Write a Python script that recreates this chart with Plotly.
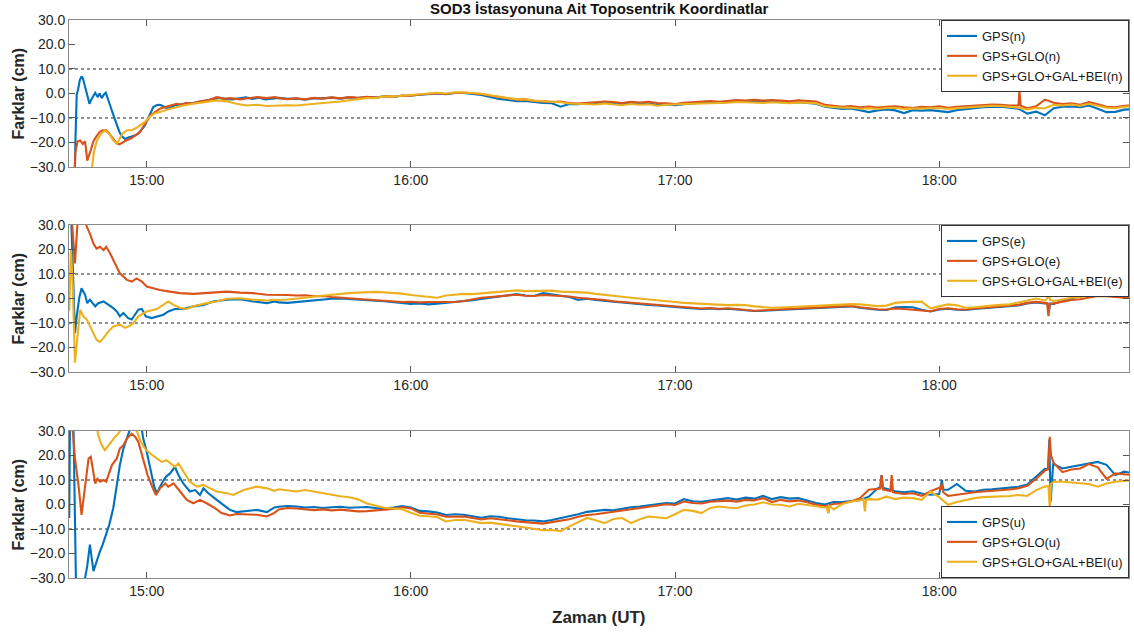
import pandas as pd
import plotly.graph_objects as go

# ---------------------------------------------------------------------------
# Time axis: minutes after 14:00 UT
# ---------------------------------------------------------------------------
BASE = pd.Timestamp("2019-01-01 14:00:00")
late_minutes = list(range(90, 285, 2))  # regular 2-minute epochs after 15:30

tick_minutes = [60, 120, 180, 240]
tick_labels = ["15:00", "16:00", "17:00", "18:00"]
y_ticks = [-30, -20, -10, 0, 10, 20, 30]

series_names = ["GPS", "GPS+GLO", "GPS+GLO+GAL+BEI"]

# ---------------------------------------------------------------------------
# North component (cm)
# ---------------------------------------------------------------------------
n_gps_early_t = [42.4, 43.6, 43.8, 44.1, 44.4, 44.8, 45.2, 45.5, 45.9, 46.3,
                 46.7, 47.0, 47.4, 47.9, 48.3, 48.9, 49.3, 49.8, 50.2, 50.7,
                 51.2, 51.7, 52.2, 52.7, 53.3, 53.8, 54.4, 55.1, 55.8, 56.6,
                 57.3, 58.1, 58.8, 59.6, 60.1, 60.6, 61.0, 61.5, 62.0, 62.6,
                 63.2, 63.8, 64.4, 64.9, 65.6, 66.4, 67.2, 68.0, 69.0, 70.5,
                 72.0, 73.5, 75.0, 76.5, 78.0, 79.5, 81.0, 82.5, 84.0, 85.5,
                 87.0, 88.5]
n_gps_early = [-45, -38, -20, -0.5, 1.5, 5.5, 7.0, 6.2, 3.5, 0.5,
               -3.0, -4.2, -2.5, -0.8, 0.3, -1.5, 0.0, -1.9, -0.6, 0.3,
               -2.0, -4.9, -7.6, -10.3, -13.0, -15.7, -17.5, -18.6, -18.0, -17.7,
               -17.2, -16.4, -14.8, -13.0, -11.0, -8.9, -7.0, -5.5, -5.0, -4.6,
               -4.7, -5.1, -5.8, -6.2, -5.5, -4.8, -4.6, -4.2, -4.0, -3.9,
               -3.4, -3.1, -2.4, -1.7, -2.3, -2.4, -2.0, -1.6, -2.2, -1.7,
               -2.4, -2.0]
n_gps_late = [-1.8, -2.2, -2.1, -2.5, -1.9, -2.0, -1.7, -2.1, -1.6, -1.9,
              -1.5, -1.6, -1.2, -1.4, -0.9, -0.8, -0.5, -0.3, 0.0, -0.3,
              0.2, 0.2, -0.2, -0.6, -1.4, -2.2, -2.6, -3.1, -3.0, -3.6,
              -3.9, -4.0, -5.4, -4.3, -4.4, -4.0, -4.1, -3.8, -4.1, -4.4,
              -4.0, -4.3, -4.1, -4.6, -4.5, -4.8, -4.4, -4.0, -3.8, -3.7,
              -3.9, -3.5, -3.3, -3.4, -3.2, -3.5, -3.3, -3.6, -3.9, -3.6,
              -3.9, -4.2, -5.4, -5.9, -6.3, -6.1, -6.8, -7.6, -6.9, -6.5,
              -6.9, -8.0, -6.8, -7.0, -6.8, -7.2, -7.6, -6.8, -6.3, -5.9,
              -5.6, -5.5, -5.4, -5.8, -6.2, -8.2, -7.4, -8.9, -6.0, -5.4,
              -5.3, -5.6, -4.9, -6.2, -7.6, -7.5, -6.6, -6.4]

n_glo_early_t = [42.4, 43.5, 43.8, 44.3, 44.9, 45.5, 46.0, 46.5, 47.3, 47.9,
                 48.5, 49.3, 50.0, 50.8, 51.5, 52.3, 53.2, 53.8, 54.5, 55.5,
                 56.4, 57.6, 58.5, 59.4, 60.2, 60.9, 61.9, 63.0, 64.2, 65.3,
                 66.8, 67.9, 69.1, 70.2, 72.1, 74.0, 75.9, 77.4, 78.9, 81.2,
                 83.5, 85.0, 87.3, 89.1]
n_glo_early = [-45, -40, -24, -19.5, -19.2, -20.6, -19.5, -27.4, -23.1, -19.5,
               -17.7, -15.7, -15.0, -15.0, -16.4, -18.4, -20.4, -20.8, -20.0, -19.0,
               -18.4, -17.0, -15.7, -13.0, -11.0, -8.9, -7.6, -6.2, -5.5, -4.9,
               -4.2, -4.6, -3.8, -4.2, -3.2, -2.8, -1.5, -2.2, -1.9, -2.4,
               -1.9, -1.5, -1.9, -1.5]
n_glo_late = [-1.9, -2.3, -2.0, -2.4, -1.8, -2.1, -1.6, -2.0, -1.5, -1.8,
              -1.4, -1.7, -1.1, -1.3, -0.8, -0.9, -0.4, -0.2, 0.1, -0.2,
              0.3, 0.4, 0.1, -0.2, -0.9, -1.5, -1.9, -2.5, -2.4, -3.0,
              -3.2, -3.5, -3.3, -3.9, -4.1, -3.8, -3.6, -3.3, -3.5, -3.9,
              -3.4, -3.7, -3.4, -3.9, -4.0, -4.3, -3.8, -3.5, -3.3, -3.1,
              -3.4, -3.0, -2.7, -2.9, -2.6, -2.9, -2.7, -2.9, -3.2, -2.8,
              -3.1, -3.3, -4.6, -5.0, -5.4, -5.1, -5.6, -5.3, -5.7, -5.4,
              -5.2, -5.6, -5.9, -5.4, -5.6, -5.2, -5.8, -5.4, -5.2, -4.8,
              -4.9, -4.5, -4.6, -4.9, -5.2, -6.0, -5.2, -2.5, -3.8, -4.3,
              -4.0, -4.6, -3.5, -4.4, -5.4, -5.6, -5.0, -4.8]
n_glo_spike_t = [257.9, 258.2, 258.5]
n_glo_spike = [-4.8, 1.2, -5.0]

n_gal_early_t = [47.3, 47.6, 48.0, 48.6, 49.4, 50.5, 51.0, 51.7, 52.4, 53.2,
                 53.8, 54.5, 55.5, 56.6, 57.6, 58.5, 59.6, 60.6, 61.7, 63.0,
                 64.5, 66.1, 68.3, 70.6, 72.9, 75.9, 78.2, 80.4, 82.7, 85.0,
                 87.3, 89.0]
n_gal_early = [-45, -30, -24, -19.7, -17.0, -15.0, -15.7, -17.0, -19.1, -20.4,
               -18.6, -16.4, -15.0, -15.0, -14.1, -13.0, -11.6, -9.6, -8.2, -7.6,
               -6.6, -5.9, -4.9, -4.2, -3.5, -2.8, -3.2, -4.2, -4.9, -4.6,
               -5.1, -4.9]
n_gal_late = [-5.0, -4.8, -4.9, -4.5, -4.3, -4.0, -3.6, -3.3, -2.7, -2.3,
              -1.9, -1.8, -1.2, -1.3, -0.9, -0.7, -0.4, 0.0, 0.3, 0.0,
              0.5, 0.5, 0.2, -0.1, -0.8, -1.4, -1.9, -2.4, -2.4, -2.9,
              -3.1, -3.4, -3.6, -4.1, -4.3, -4.2, -4.5, -4.1, -4.6, -4.8,
              -4.3, -4.6, -4.4, -5.0, -4.6, -4.6, -4.3, -4.2, -4.0, -4.1,
              -3.9, -3.8, -3.5, -3.6, -3.7, -3.9, -3.6, -3.8, -4.0, -3.7,
              -4.0, -4.0, -5.2, -5.5, -5.8, -5.7, -6.2, -6.0, -6.3, -5.9,
              -5.8, -6.3, -6.2, -5.9, -6.1, -5.9, -6.3, -6.0, -5.7, -5.4,
              -5.3, -5.0, -5.1, -5.3, -5.8, -6.5, -5.9, -6.0, -4.6, -4.9,
              -4.5, -5.0, -4.2, -5.0, -5.8, -6.0, -5.4, -5.2]

# ---------------------------------------------------------------------------
# East component (cm)
# ---------------------------------------------------------------------------
e_gps_early_t = [42.4, 42.9, 43.3, 43.7, 44.1, 44.7, 45.2, 46.0, 46.5, 47.1,
                 48.3, 49.0, 50.2, 51.3, 52.4, 53.2, 53.9, 54.7, 55.8, 56.6,
                 57.4, 58.1, 58.9, 59.8, 61.1, 62.6, 63.8, 64.9, 66.4, 68.3,
                 70.6, 72.9, 75.1, 78.2, 81.2, 84.2, 87.3, 89.0]
e_gps_early = [40, 30, 8, -14.1, -7.3, 0.5, 4.2, 1.5, -1.9, -0.5,
               -3.2, -1.9, -1.2, -2.6, -3.9, -5.3, -7.3, -5.9, -8.0, -8.6,
               -6.6, -4.6, -4.3, -7.3, -8.0, -7.3, -6.6, -5.3, -4.3, -4.3,
               -3.2, -2.6, -1.2, -0.5, -0.3, -1.2, -1.9, -1.2]
e_gps_late = [-1.6, -1.8, -1.4, -1.0, -0.6, -0.3, -0.1, 0.0, -0.3, -0.5,
              -0.6, -0.9, -1.1, -1.4, -1.6, -2.2, -2.0, -2.4, -2.1, -1.8,
              -1.6, -1.3, -0.7, -0.2, 0.3, 0.6, 1.2, 1.8, 1.2, 1.0,
              2.2, 1.6, 1.0, 0.6, -0.6, -0.1, -0.6, -0.8, -1.3, -1.6,
              -2.0, -2.2, -2.6, -2.8, -3.0, -3.5, -3.8, -4.2, -4.3, -4.1,
              -4.4, -4.2, -4.5, -4.7, -5.1, -5.0, -4.8, -4.6, -4.4, -4.2,
              -4.1, -3.9, -3.8, -3.6, -3.4, -3.2, -3.8, -4.3, -4.6, -4.7,
              -3.6, -3.5, -3.6, -4.6, -5.3, -4.5, -4.2, -4.6, -4.7, -4.3,
              -4.0, -3.7, -3.5, -3.2, -2.8, -2.0, -1.6, -2.0, -2.2, -1.0,
              -0.2, 1.3, 2.3, 1.4, 1.1, 0.8, 0.5, 0.6]
e_gps_spike_t = [264.6, 264.9, 265.2]
e_gps_spike = [-2.0, -5.2, -2.1]

e_glo_early_t = [42.4, 43.0, 43.7, 44.2, 44.6, 46.4, 47.1, 47.9, 48.6, 49.4,
                 50.2, 50.8, 51.7, 52.8, 53.9, 55.5, 56.6, 57.7, 58.9, 60.0,
                 61.5, 63.0, 65.3, 67.6, 70.6, 72.9, 75.1, 78.2, 81.2, 84.2,
                 87.3, 89.0]
e_glo_early = [40, 32, 14.3, 25, 40, 29.2, 26.5, 22.4, 20.4, 21.1,
               19.7, 21.1, 18.4, 14.3, 10.3, 7.6, 6.9, 8.2, 6.9, 4.9,
               4.2, 3.5, 2.8, 2.2, 1.9, 2.2, 2.4, 2.8, 2.4, 2.2,
               1.5, 1.5]
e_glo_late = [1.6, 1.4, 1.2, 1.3, 0.9, 1.0, 0.6, 0.5, 0.1, -0.2,
              -0.5, -0.7, -0.9, -1.1, -1.4, -1.3, -1.6, -1.4, -1.5, -1.3,
              -1.4, -1.0, -0.3, 0.3, 0.6, 0.9, 1.2, 1.5, 1.1, 1.0,
              1.4, 1.3, 1.0, 0.8, 0.3, 0.1, -0.4, -0.6, -1.1, -1.4,
              -1.8, -2.0, -2.4, -2.6, -2.8, -3.3, -3.6, -4.0, -4.1, -3.9,
              -4.2, -4.0, -4.3, -4.5, -5.0, -4.8, -4.6, -4.4, -4.2, -4.0,
              -3.9, -3.7, -3.6, -3.4, -3.2, -3.0, -3.6, -4.1, -4.4, -4.5,
              -4.1, -4.3, -4.5, -4.8, -5.2, -4.3, -4.0, -4.4, -4.5, -4.1,
              -3.8, -3.5, -3.3, -3.0, -2.6, -1.8, -1.4, -1.8, -2.0, -1.3,
              -0.6, -0.3, 0.4, 1.0, 0.9, 0.6, 0.3, 0.4]
e_glo_spike_t = [264.5, 264.8, 265.1]
e_glo_spike = [-2.0, -7.2, -2.2]

e_gal_early_t = [42.4, 42.8, 43.2, 43.7, 44.3, 44.9, 45.6, 46.4, 47.5, 48.6,
                 49.3, 50.2, 51.3, 52.4, 53.9, 55.1, 56.2, 57.0, 58.1, 60.0,
                 62.3, 63.8, 64.9, 66.1, 67.6, 69.1, 70.6, 73.6, 75.9, 78.2,
                 81.2, 84.2, 87.3, 89.0]
e_gal_early = [-5, 20, 5, -26.2, -15, -4.6, -7.3, -8.6, -12.7, -16.8,
               -17.8, -16.1, -13.4, -11.4, -10.7, -12.0, -11.1, -10.0, -7.3, -5.3,
               -4.3, -2.6, -1.2, -2.6, -3.9, -4.3, -3.2, -1.9, -1.2, -0.1,
               0.1, -0.5, -0.8, -0.5]
e_gal_late = [-0.6, -0.4, -0.2, 0.3, 0.8, 1.2, 1.3, 1.8, 2.2, 2.4,
              2.6, 2.7, 2.5, 2.3, 2.0, 1.4, 1.0, 0.5, 0.3, 1.2,
              1.5, 1.9, 1.8, 2.0, 2.3, 2.7, 3.0, 3.3, 3.0, 3.1,
              3.0, 3.2, 2.8, 2.7, 2.6, 2.4, 1.9, 1.6, 1.0, 0.7,
              0.3, 0.0, -0.4, -0.6, -0.8, -1.4, -1.8, -2.0, -2.2, -2.4,
              -2.5, -2.7, -2.6, -2.7, -3.2, -3.6, -3.8, -3.7, -3.5, -3.3,
              -3.2, -3.1, -2.9, -2.6, -2.4, -2.3, -2.4, -2.8, -3.1, -2.9,
              -1.8, -1.5, -1.4, -1.3, -4.0, -3.2, -2.4, -2.8, -3.8, -3.6,
              -3.1, -2.9, -2.6, -2.4, -1.6, -0.8, 0.0, -0.8, -1.0, -0.3,
              0.3, 0.6, 1.2, 1.6, 1.9, 1.7, 1.6, 1.7]
e_gal_spike_t = [264.6, 264.9, 265.2]
e_gal_spike = [0.2, 2.8, -0.6]

# ---------------------------------------------------------------------------
# Up component (cm)
# ---------------------------------------------------------------------------
u_gps_early_t = [42.4, 42.6, 43.3, 44.0, 44.8, 45.8, 46.5, 47.1, 47.9, 48.8,
                 49.4, 50.0, 50.8, 51.5, 52.4, 53.2, 53.9, 54.7, 55.5, 56.2,
                 57.0, 58.5, 59.2, 60.0, 60.8, 61.7, 62.3, 63.4, 64.4, 65.3,
                 66.4, 67.2, 68.3, 69.8, 71.0, 72.1, 72.9, 74.0, 75.9, 77.4,
                 78.9, 80.4, 82.7, 85.0, 87.3, 89.0]
u_gps_early = [-5.5, 40, 40, -40, -40, -32, -25, -16.4, -27.2, -21.8,
               -19.0, -16.4, -11.6, -8.2, -1.5, 8.0, 16.1, 22.8, 26.9, 29.6,
               35, 35, 27.0, 21.5, 14.7, 7.3, 4.6, 8.6, 11.4, 12.7,
               15.4, 12.0, 8.6, 5.3, 5.9, 3.9, 6.6, 4.6, 1.9, -0.1,
               -2.2, -3.1, -2.6, -2.2, -3.1, -1.2]
u_gps_late = [-0.9, -0.6, -0.8, -1.2, -1.0, -1.4, -1.1, -0.9, -1.3, -1.1,
              -1.0, -1.4, -1.6, -1.2, -0.6, -1.2, -2.6, -2.8, -3.3, -4.3,
              -4.0, -4.2, -4.8, -5.4, -4.8, -5.0, -5.6, -6.1, -6.4, -6.5,
              -6.9, -6.3, -5.6, -4.9, -4.0, -3.0, -2.6, -2.2, -2.4, -1.7,
              -1.1, -0.8, -0.3, 0.2, 0.6, 0.4, 2.2, 1.3, 1.1, 1.6,
              2.0, 2.6, 2.0, 2.8, 2.4, 3.5, 2.2, 3.0, 2.4, 2.6,
              1.6, 0.6, 0.0, 1.0, 1.0, 1.3, 1.8, 3.2, 6.6, 6.4,
              5.4, 5.0, 5.4, 4.5, 4.0, 4.3, 6.0, 8.4, 5.6, 5.3,
              6.0, 6.2, 6.6, 6.8, 7.2, 8.2, 11.5, 14.6, 16.5, 14.7,
              15.4, 16.1, 16.8, 17.4, 16.2, 12.0, 13.4, 12.8]
u_gps_spike_t = [226.6, 226.9, 227.2, 240.3, 240.6, 240.9,
                 264.7, 265.0, 265.3, 265.6, 265.9]
u_gps_spike = [7.0, 12.0, 6.8, 7.0, 10.0, 6.0,
               14.5, 26.5, 1.2, 12.0, 17.0]

u_glo_early_t = [42.4, 43.0, 43.7, 44.5, 45.2, 46.0, 46.8, 47.3, 47.9, 48.3,
                 48.8, 49.4, 50.2, 50.8, 51.3, 52.1, 53.2, 53.9, 54.7, 55.5,
                 56.6, 57.4, 58.1, 59.2, 60.2, 61.4, 62.1, 63.0, 64.2, 64.9,
                 66.1, 67.6, 69.1, 70.6, 72.1, 73.6, 75.5, 77.0, 78.9, 80.4,
                 82.7, 85.0, 87.3, 89.0]
u_glo_early = [35, 35, 18.8, 8.0, -4.2, 8.0, 18.8, 19.5, 13.4, 8.6,
               10.5, 9.3, 10.0, 9.3, 12.0, 16.1, 18.8, 22.8, 24.2, 26.9,
               28.9, 27.6, 25.5, 18.8, 12.0, 6.6, 3.9, 6.6, 8.6, 7.3,
               8.6, 5.3, 1.9, 0.5, 1.9, 0.5, -1.5, -3.5, -4.5, -3.9,
               -3.9, -4.2, -4.9, -3.4]
u_glo_late = [-2.0, -1.4, -1.6, -1.9, -2.3, -2.0, -2.4, -2.1, -2.6, -2.8,
              -2.7, -2.4, -2.0, -1.8, -1.1, -1.6, -3.4, -3.6, -4.1, -5.0,
              -4.8, -4.9, -5.5, -6.1, -5.6, -5.9, -6.4, -6.9, -7.3, -7.5,
              -7.8, -7.2, -6.6, -6.0, -5.0, -4.3, -4.0, -3.5, -3.1, -2.4,
              -1.9, -1.6, -1.2, -0.5, 0.1, -0.2, 1.2, 0.6, 0.4, 1.1,
              1.3, 1.6, 1.2, 1.9, 1.7, 2.6, 1.0, 1.9, 1.3, 1.6,
              0.9, -0.1, -0.6, 0.2, 0.5, 1.2, 2.6, 6.0, 6.6, 5.8,
              4.8, 4.3, 4.6, 3.5, 5.4, 6.8, 3.5, 4.0, 4.6, 5.0,
              5.3, 5.5, 5.9, 6.1, 6.6, 7.6, 10.5, 13.8, 17.0, 13.2,
              14.3, 14.7, 16.5, 15.2, 10.5, 12.7, 12.2, 12.0]
u_glo_spike_t = [214.5, 214.8, 215.1, 226.6, 226.9, 227.2, 228.9, 229.2, 229.5,
                 240.3, 240.6, 240.9, 264.8, 265.1, 265.4]
u_glo_spike = [-0.5, -3.5, -0.2, 6.5, 12.0, 6.2, 5.5, 12.0, 5.0,
               6.0, 8.5, 5.0, 14.5, 27.6, 20.0]

u_gal_early_t = [42.4, 48.4, 49.0, 49.8, 50.5, 51.3, 52.1, 52.8, 53.6, 54.4,
                 57.5, 58.5, 59.6, 60.8, 62.3, 63.4, 64.5, 66.4, 67.2, 68.3,
                 69.8, 71.4, 72.9, 74.4, 75.9, 78.2, 79.7, 82.0, 85.0, 87.3,
                 89.0]
u_gal_early = [40, 34, 28.2, 24.2, 22.2, 24.2, 26.2, 27.6, 29.0, 31.5,
               31.5, 26.2, 22.8, 20.8, 18.8, 17.4, 18.1, 15.4, 16.8, 13.4,
               9.3, 7.3, 8.0, 6.6, 5.3, 4.6, 3.9, 5.9, 7.3, 6.6,
               5.6]
u_gal_late = [6.2, 5.8, 5.3, 5.9, 5.2, 4.6, 3.8, 3.4, 3.0, 2.1,
              0.4, -0.6, -1.3, -1.6, -1.9, -3.4, -4.6, -4.8, -5.2, -6.9,
              -6.3, -6.2, -7.0, -7.6, -7.4, -7.8, -8.3, -8.9, -9.4, -10.0,
              -10.5, -10.4, -10.9, -8.9, -7.2, -5.5, -6.4, -7.6, -5.9, -5.5,
              -7.6, -6.0, -4.9, -5.3, -5.6, -4.0, -2.2, -2.6, -3.5, -1.4,
              -0.8, -1.2, -1.5, -0.4, 0.0, 0.9, 0.0, -0.1, -0.8, 0.3,
              -0.3, -0.8, -1.2, -2.0, 0.2, 1.2, 1.7, 2.2, 2.0, 3.2,
              2.2, 2.8, 2.6, 1.9, 5.3, 3.0, -0.1, 1.0, 1.9, 2.6,
              3.0, 3.1, 3.2, 3.5, 3.9, 3.5, 5.9, 7.3, 9.3, 9.3,
              9.0, 8.9, 8.4, 7.3, 8.6, 9.3, 9.8, 10.0]
u_gal_spike_t = [214.5, 214.8, 215.1, 222.8, 223.1, 223.4, 264.8, 265.1, 265.4]
u_gal_spike = [-1.0, -3.5, -0.5, 2.2, -2.8, 2.0, 7.5, -1.5, 8.5]


# ---------------------------------------------------------------------------
def to_time(minutes):
    return (BASE + pd.to_timedelta(minutes, unit="min")).strftime("%Y-%m-%d %H:%M:%S.%f")


def assemble(early_t, early_v, late_v, spike_t=(), spike_v=()):
    if len(early_t) != len(early_v) or len(late_v) != len(late_minutes) \
            or len(spike_t) != len(spike_v):
        raise ValueError("series length mismatch")
    t = list(early_t) + late_minutes + list(spike_t)
    v = list(early_v) + list(late_v) + list(spike_v)
    order = sorted(range(len(t)), key=lambda i: t[i])
    return [to_time(t[i]) for i in order], [v[i] for i in order]


panels = [
    ("n", [assemble(n_gps_early_t, n_gps_early, n_gps_late),
           assemble(n_glo_early_t, n_glo_early, n_glo_late, n_glo_spike_t, n_glo_spike),
           assemble(n_gal_early_t, n_gal_early, n_gal_late)]),
    ("e", [assemble(e_gps_early_t, e_gps_early, e_gps_late, e_gps_spike_t, e_gps_spike),
           assemble(e_glo_early_t, e_glo_early, e_glo_late, e_glo_spike_t, e_glo_spike),
           assemble(e_gal_early_t, e_gal_early, e_gal_late, e_gal_spike_t, e_gal_spike)]),
    ("u", [assemble(u_gps_early_t, u_gps_early, u_gps_late, u_gps_spike_t, u_gps_spike),
           assemble(u_glo_early_t, u_glo_early, u_glo_late, u_glo_spike_t, u_glo_spike),
           assemble(u_gal_early_t, u_gal_early, u_gal_late, u_gal_spike_t, u_gal_spike)]),
]

COLORS = ["#0072BD", "#D95319", "#EDB120"]
FONT = "Liberation Sans, Arial, Helvetica, sans-serif"
DOMAINS = [[0.7366, 1.0], [0.3692, 0.6326], [0.0, 0.2634]]

fig = go.Figure()
for k, (comp, series) in enumerate(panels):
    suffix = "" if k == 0 else str(k + 1)
    for j, (tt, vv) in enumerate(series):
        fig.add_trace(go.Scatter(
            x=tt, y=vv, mode="lines",
            name=f"{series_names[j]}({comp})",
            line=dict(color=COLORS[j], width=2.1),
            xaxis="x" + suffix, yaxis="y" + suffix,
            legend="legend" + suffix,
        ))

axis_line = dict(showline=True, linecolor="#8a8a8a", linewidth=1, mirror="allticks",
                 ticks="inside", ticklen=6, tickcolor="#555555", showgrid=False,
                 zeroline=False, tickfont=dict(family=FONT, size=14, color="#262626"))

layout = dict(
    width=1134, height=635,
    margin=dict(l=69, r=5, t=20, b=57),
    paper_bgcolor="white", plot_bgcolor="white",
    font=dict(family=FONT, color="#262626"),
    showlegend=True,
)
for k in range(3):
    suffix = "" if k == 0 else str(k + 1)
    layout["xaxis" + suffix] = dict(
        type="date", domain=[0, 1], anchor="y" + suffix,
        range=[to_time(42.35), to_time(283.1)],
        tickvals=[to_time(m) for m in tick_minutes], ticktext=tick_labels,
        **axis_line)
    layout["yaxis" + suffix] = dict(
        domain=DOMAINS[k], anchor="x" + suffix, range=[-30, 30],
        tickvals=y_ticks, tickformat=".1f", **axis_line)

legend_style = dict(bgcolor="white", bordercolor="#333333", borderwidth=1,
                    font=dict(family=FONT, size=13, color="#1a1a1a"),
                    tracegroupgap=0, itemwidth=30, x=1, xanchor="right")
layout["legend"] = dict(y=DOMAINS[0][1], yanchor="top", **legend_style)
layout["legend2"] = dict(y=DOMAINS[1][1], yanchor="top", **legend_style)
layout["legend3"] = dict(y=DOMAINS[2][0], yanchor="bottom", **legend_style)

shapes = []
for k in range(3):
    suffix = "" if k == 0 else str(k + 1)
    for level in (10, -10):
        shapes.append(dict(type="line", xref=f"x{suffix} domain", x0=0, x1=1,
                           yref="y" + suffix, y0=level, y1=level, layer="below",
                           line=dict(color="#222222", width=1, dash="3px,3px")))
layout["shapes"] = shapes

annotations = [
    dict(text="<b>SOD3 İstasyonuna Ait Toposentrik Koordinatlar</b>",
         xref="paper", yref="paper", x=0.5, y=1.0215, xanchor="center",
         yanchor="middle", showarrow=False,
         font=dict(family=FONT, size=15, color="#111111")),
    dict(text="<b>Zaman (UT)</b>", xref="paper", yref="paper", x=0.5, y=-0.0699,
         xanchor="center", yanchor="middle", showarrow=False,
         font=dict(family=FONT, size=17, color="#262626")),
]
for dom in DOMAINS:
    annotations.append(dict(
        text="<b>Farklar (cm)</b>", xref="paper", yref="paper",
        x=-0.0472, y=(dom[0] + dom[1]) / 2, xanchor="center", yanchor="middle",
        textangle=-90, showarrow=False,
        font=dict(family=FONT, size=16, color="#262626")))
layout["annotations"] = annotations

fig.update_layout(**layout)
fig.write_html("out.html")
